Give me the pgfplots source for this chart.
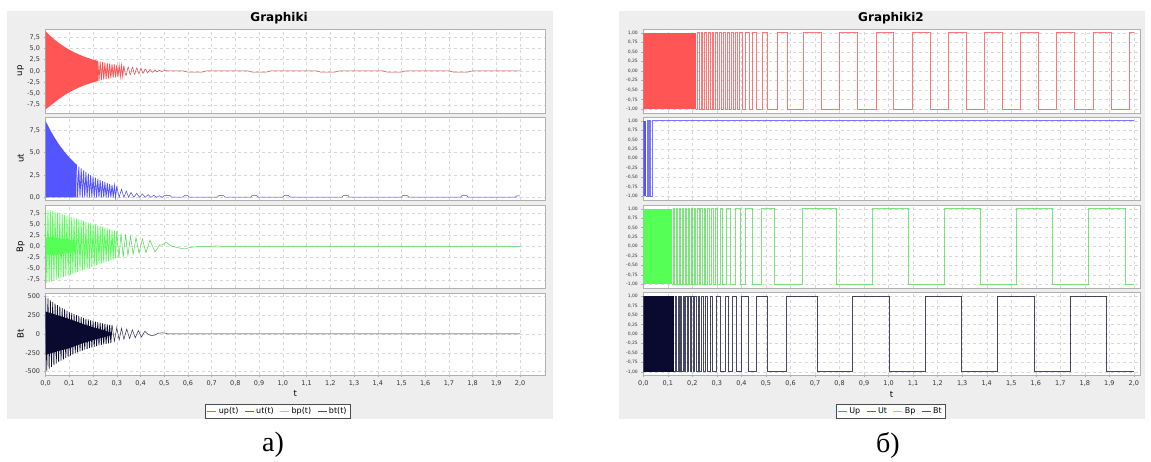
\documentclass[border=0pt]{standalone}
\usepackage{pgfplots}
\pgfplotsset{compat=1.18}
\usepackage{fontspec}
\setmainfont{DejaVu Sans}
\newfontfamily\capfont{Liberation Serif}
\definecolor{upc}{HTML}{FF5555}
\definecolor{utc}{HTML}{5555FF}
\definecolor{bpc}{HTML}{55FF55}
\definecolor{btc}{HTML}{0A0A30}
\definecolor{btl}{HTML}{505068}
\definecolor{panel}{HTML}{EEEEEE}
\definecolor{gridc}{HTML}{D8D8D8}
\definecolor{framec}{HTML}{B0B0B0}
\pgfplotsset{
 base/.style={scale only axis, axis line style={framec}, tick style={framec, line width=0.4pt},
   tick align=outside, major tick length=2pt, xtick pos=bottom, ytick pos=left,
   grid=major, major grid style={gridc, dashed, line width=0.4pt},
   axis background/.style={fill=white},
   /pgf/number format/assume math mode=true,
   xtick={0,0.1,0.2,0.3,0.4,0.5,0.6,0.7,0.8,0.9,1.0,1.1,1.2,1.3,1.4,1.5,1.6,1.7,1.8,1.9,2.0},
   xmin=0,
   xticklabel style={font=\fontsize{6.5}{7}\selectfont, text=black!80, /pgf/number format/.cd, fixed, fixed zerofill, precision=1, use comma},
   ylabel style={font=\fontsize{8.5}{9}\selectfont, at={(axis description cs:-0.0501,0.5)}, anchor=center},
   every axis plot/.append style={line width=0.5pt}},
 top/.style={xticklabels={}, xtick style={draw=none}},
 lft/.style={base, xmax=2.105, width=499.4pt,
   yticklabel style={font=\fontsize{6.5}{7}\selectfont, text=black!80}},
 rgt/.style={base, xmax=2.025, width=496.7pt, ymin=-1.1, ymax=1.1,
   ytick={-1,-0.75,-0.5,-0.25,0,0.25,0.5,0.75,1},
   yticklabel style={font=\fontsize{4.5}{5}\selectfont, text=black!80, /pgf/number format/.cd, fixed, fixed zerofill, precision=2, use comma}},
 dec1/.style={yticklabel style={/pgf/number format/.cd, fixed, fixed zerofill, precision=1, use comma}},
 myleg/.style={legend columns=4,
   legend style={draw=none, fill=white, text=black, font=\fontsize{8}{9}\selectfont, inner sep=1.2pt, /tikz/every even column/.append style={column sep=4pt}}},
 limgU/.style={legend image code/.code={\draw[draw=upc, line width=0.8pt] (0pt,0pt) -- (9pt,0pt);}},
 limgT/.style={legend image code/.code={\draw[draw=utc, line width=0.8pt] (0pt,0pt) -- (9pt,0pt);}},
 limgP/.style={legend image code/.code={\draw[draw=bpc, line width=0.8pt] (0pt,0pt) -- (9pt,0pt);}},
 limgB/.style={legend image code/.code={\draw[draw=btl, line width=0.8pt] (0pt,0pt) -- (9pt,0pt);}}
}
\begin{document}
\begin{tikzpicture}
\useasboundingbox (0pt,0pt) rectangle (1151pt,462pt);
\fill[white] (0pt,0pt) rectangle (1151pt,462pt);
\fill[panel] (7pt,43pt) rectangle (553pt,451pt);
\fill[panel] (619pt,43pt) rectangle (1145pt,451pt);
\node[font=\bfseries\fontsize{12}{13}\selectfont] at (279pt,444pt) {Graphiki};
\node[font=\bfseries\fontsize{12}{13}\selectfont] at (891pt,444pt) {Graphiki2};
\node[font=\capfont\fontsize{28}{30}\selectfont] at (273pt,17pt) {а)};
\node[font=\capfont\fontsize{28}{30}\selectfont] at (888pt,17pt) {б)};

% ---------------- LEFT: up ----------------
\begin{axis}[lft, top, dec1, at={(45.6pt,349pt)}, anchor=south west, height=84pt,
  ymin=-9.3, ymax=9.3, ytick={-7.5,-5,-2.5,0,2.5,5,7.5}, ylabel={up}]
\addplot[fill=upc, draw=none] coordinates {(0,8.8)(0.02,7.77)(0.04,6.85)(0.06,6.05)(0.08,5.34)(0.10,4.71)(0.12,4.16)(0.14,3.67)(0.16,3.24)(0.18,2.86)(0.20,2.52)(0.22,2.22)
 (0.22,-2.22)(0.20,-2.52)(0.18,-2.86)(0.16,-3.24)(0.14,-3.67)(0.12,-4.16)(0.10,-4.71)(0.08,-5.34)(0.06,-6.05)(0.04,-6.85)(0.02,-7.7)(0,-8.5)};
\addplot[upc, line width=0.8pt] coordinates {(0.22,2.22)(0.225,-2.16)(0.23,2.09)(0.235,-2.03)(0.24,1.96)(0.245,-1.90)(0.25,1.84)(0.255,-1.79)(0.26,1.73)(0.265,-1.68)(0.27,1.63)(0.275,-1.58)(0.28,1.53)(0.285,-1.48)(0.29,1.44)(0.295,-1.39)(0.30,1.35)(0.305,-1.31)(0.31,1.27)(0.315,-1.23)(0.32,1.19)(0.325,-1.15)(0.33,1.12)};
\addplot[upc!85!black, smooth] coordinates {(0.33,1.12)(0.339,-1.0)(0.348,0.9)(0.357,-0.85)(0.366,0.8)(0.375,-0.72)(0.384,0.66)(0.393,-0.6)(0.402,0.55)(0.411,-0.5)(0.42,0.45)(0.43,-0.4)(0.44,0.35)(0.45,-0.3)(0.46,0.25)(0.47,-0.2)(0.48,0.15)(0.49,-0.1)(0.50,0.1)(0.52,0.0)};
\addplot[upc!85!black] coordinates {(0.52,0.0)(0.58,0.0)(0.60,-0.25)(0.66,-0.25)(0.68,0.05)(0.85,0.05)(0.87,-0.25)(0.93,-0.25)(0.95,0.05)(1.14,0.05)(1.16,-0.25)(1.22,-0.25)(1.24,0.05)(1.42,0.05)(1.44,-0.25)(1.50,-0.25)(1.52,0.05)(1.70,0.05)(1.72,-0.25)(1.78,-0.25)(1.80,0.05)(2.0,0.05)};
\end{axis}

% ---------------- LEFT: ut ----------------
\begin{axis}[lft, top, dec1, at={(45.6pt,262pt)}, anchor=south west, height=83pt,
  ymin=-0.3, ymax=9.0, ytick={0,2.5,5,7.5}, ylabel={ut}]
\addplot[fill=utc, draw=none] coordinates {(0,8.55)(0.02,7.51)(0.04,6.59)(0.06,5.79)(0.08,5.09)(0.10,4.47)(0.12,3.92)(0.13,3.68)(0.13,0)(0,0)};
\addplot[utc, line width=0.8pt] coordinates {(0.13,3.68)(0.135,0)(0.14,3.45)(0.145,0)(0.15,3.23)(0.155,0)(0.16,3.03)(0.165,0)(0.17,2.84)(0.175,0)(0.18,2.66)(0.185,0)(0.19,2.49)(0.195,0)(0.20,2.33)(0.205,0)(0.21,2.19)(0.215,0)(0.22,2.05)(0.225,0)(0.23,1.92)(0.235,0)(0.24,1.80)(0.245,0)(0.25,1.69)(0.255,0)(0.26,1.58)(0.265,0)(0.27,1.48)(0.275,0)(0.28,1.39)(0.285,0)(0.29,1.30)(0.295,0)(0.30,1.22)};
\addplot[utc!85!black] coordinates {(0.30,1.22)(0.31,0.0)(0.32,0.9)(0.33,0.0)(0.34,0.7)(0.35,0.0)(0.36,0.55)(0.372,0.0)(0.384,0.45)(0.396,0.0)(0.408,0.38)(0.42,0.0)(0.432,0.3)(0.444,0.0)(0.456,0.22)(0.468,0.0)(0.48,0.18)(0.492,0.0)(0.50,0.2)(0.525,0.2)(0.53,0.03)(0.58,0.03)(0.585,0.18)(0.60,0.18)(0.605,0.03)(0.725,0.03)(0.73,0.2)(0.75,0.2)(0.755,0.03)(0.865,0.03)(0.87,0.2)(0.89,0.2)(0.895,0.03)(1.0,0.03)(1.005,0.18)(1.025,0.18)(1.03,0.03)(1.25,0.03)(1.255,0.2)(1.275,0.2)(1.28,0.03)(1.50,0.03)(1.505,0.2)(1.525,0.2)(1.53,0.03)(1.75,0.03)(1.755,0.2)(1.775,0.2)(1.78,0.03)(1.98,0.03)(1.985,0.15)(2.0,0.15)};
\end{axis}

% ---------------- LEFT: Bp ----------------
\begin{axis}[lft, top, dec1, at={(45.6pt,174pt)}, anchor=south west, height=83pt,
  ymin=-9.35, ymax=9.35, ytick={-7.5,-5,-2.5,0,2.5,5,7.5}, ylabel={Bp}]
\addplot[fill=bpc, draw=none] coordinates {(0,2.0)(0.03,2.2)(0.06,1.8)(0.09,1.6)(0.12,1.3)(0.13,0.5)(0.13,-0.5)(0.12,-1.3)(0.09,-1.5)(0.06,-1.8)(0.03,-2.0)(0,-1.8)};
\addplot[bpc, line width=0.75pt] coordinates {(0,8.5)(0.005,-8.21)(0.01,8.33)(0.015,-8.02)(0.02,8.16)(0.025,-7.83)(0.03,7.99)(0.035,-7.64)(0.04,7.82)(0.045,-7.45)(0.05,7.65)(0.055,-7.26)(0.06,7.48)(0.065,-7.07)(0.07,7.31)(0.075,-6.88)(0.08,7.14)(0.085,-6.69)(0.09,6.97)(0.095,-6.50)(0.10,6.80)(0.105,-6.31)(0.11,6.63)(0.115,-6.12)(0.12,6.46)(0.125,-5.93)(0.13,6.29)(0.135,-5.74)(0.14,6.12)(0.145,-5.55)(0.15,5.95)(0.155,-5.36)(0.16,5.78)(0.165,-5.17)(0.17,5.61)(0.175,-4.98)(0.18,5.44)(0.185,-4.79)(0.19,5.27)(0.195,-4.60)(0.20,5.10)(0.205,-4.41)(0.21,4.93)(0.215,-4.22)(0.22,4.76)(0.225,-4.03)(0.23,4.59)(0.235,-3.84)(0.24,4.42)(0.245,-3.65)(0.25,4.25)(0.255,-3.46)(0.26,4.08)(0.265,-3.27)(0.27,3.91)(0.275,-3.08)(0.28,3.74)(0.285,-2.89)(0.29,3.57)(0.295,-2.70)(0.30,3.40)};
\addplot[bpc!85!black] coordinates {(0.30,3.40)(0.309,-2.6)(0.318,2.9)(0.327,-2.3)(0.337,2.6)(0.347,-2.0)(0.358,2.3)(0.369,-1.7)(0.381,2.0)(0.394,-1.5)(0.408,1.7)(0.423,-1.4)(0.440,1.4)(0.461,-1.2)(0.482,0.4)(0.490,0.3)(0.507,1.0)(0.53,0.1)(0.56,-0.3)(0.585,-0.55)(0.61,-0.2)(0.64,-0.05)(0.70,0.0)(0.72,0.15)(0.75,0.0)(2.0,0.0)};
\end{axis}

% ---------------- LEFT: Bt ----------------
\begin{axis}[lft, myleg, at={(45.6pt,87pt)}, anchor=south west, height=82pt,
  ymin=-547, ymax=547, ytick={-500,-250,0,250,500}, ylabel={Bt},
  xlabel={t}, xlabel style={font=\fontsize{8.5}{9}\selectfont, at={(axis description cs:0.5,0)}, anchor=center, yshift=-19pt},
  legend style={at={(0.465,-0.439)}, anchor=center, name=legL}]
\addlegendimage{limgU}\addlegendentry{up(t)}
\addlegendimage{limgT}\addlegendentry{ut(t)}
\addlegendimage{limgP}\addlegendentry{bp(t)}
\addlegendimage{limgB}\addlegendentry{bt(t)}
\addplot[forget plot, fill=btc, draw=none] coordinates {(0,300)(0.05,250)(0.1,200)(0.15,140)(0.2,90)(0.25,45)(0.28,10)(0.28,-10)(0.25,-40)(0.2,-80)(0.15,-130)(0.1,-190)(0.05,-230)(0,-280)};
\addplot[forget plot, btc, line width=0.75pt] coordinates {(0,500)(0.005,-487)(0.01,474)(0.015,-462)(0.02,450)(0.025,-438)(0.03,427)(0.035,-416)(0.04,405)(0.045,-395)(0.05,384)(0.055,-374)(0.06,365)(0.065,-355)(0.07,346)(0.075,-337)(0.08,328)(0.085,-320)(0.09,311)(0.095,-303)(0.10,295)(0.105,-288)(0.11,280)(0.115,-273)(0.12,266)(0.125,-259)(0.13,252)(0.135,-246)(0.14,239)(0.145,-233)(0.15,227)(0.155,-221)(0.16,215)(0.165,-210)(0.17,204)(0.175,-199)(0.18,194)(0.185,-189)(0.19,184)(0.195,-179)(0.20,175)(0.205,-170)(0.21,166)(0.215,-161)(0.22,157)(0.225,-153)(0.23,149)(0.235,-145)(0.24,141)(0.245,-138)(0.25,134)(0.255,-131)(0.26,127)(0.265,-124)(0.27,121)(0.275,-118)(0.28,115)};
\addplot[forget plot, btc!85] coordinates {(0.28,115)(0.29,-95)(0.30,85)(0.31,-80)(0.32,75)(0.33,-70)(0.342,65)(0.354,-60)(0.366,55)(0.378,-50)(0.391,45)(0.404,-40)(0.418,35)(0.432,-5)(0.445,-20)(0.46,-15)(0.475,10)(0.49,15)(0.505,12)(0.515,0)(2.0,0)};
\end{axis}
\draw[black!70, line width=0.6pt] (legL.south west) rectangle (legL.north east);

% ---------------- RIGHT: Up ----------------
\begin{axis}[rgt, top, at={(643.3pt,349pt)}, anchor=south west, height=84pt]
\addplot[fill=upc, draw=none] coordinates {(0,-1)(0.215,-1)(0.215,1)(0,1)};
\addplot[upc, opacity=0.8, const plot, line width=0.7pt] coordinates {(0.215,-1)(0.2203,1)(0.2284,-1)(0.2352,1)(0.2420,-1)(0.2502,1)(0.2570,-1)(0.2651,1)(0.2719,-1)(0.2801,1)(0.2869,-1)(0.2950,1)(0.3018,-1)(0.3100,1)(0.3181,-1)(0.3263,1)(0.3344,-1)(0.3426,1)(0.3507,-1)(0.3589,1)(0.3670,-1)(0.3752,1)(0.3833,-1)(0.391,1)(0.404,-1)(0.417,1)(0.431,-1)(0.444,1)(0.459,-1)(0.485,1)(0.507,-1)(0.546,1)(0.589,-1)(0.652,1)(0.727,-1)(0.799,1)(0.874,-1)(0.949,1)(1.019,-1)(1.097,1)(1.169,-1)(1.243,1)(1.316,-1)(1.390,1)(1.464,-1)(1.536,1)(1.610,-1)(1.685,1)(1.757,-1)(1.834,1)(1.907,-1)(1.981,1)(2.0,1)};
\end{axis}

% ---------------- RIGHT: Ut ----------------
\begin{axis}[rgt, top, at={(643.3pt,262pt)}, anchor=south west, height=83pt]
\addplot[fill=utc, draw=none] coordinates {(0,-1)(0.012,-1)(0.012,1)(0,1)};
\addplot[utc, opacity=0.8, const plot, line width=0.7pt] coordinates {(0.012,-1)(0.016,1)(0.020,-1)(0.026,1)(0.030,-1)(0.037,1)(2.0,1)};
\end{axis}

% ---------------- RIGHT: Bp ----------------
\begin{axis}[rgt, top, at={(643.3pt,174pt)}, anchor=south west, height=83pt]
\addplot[fill=bpc, draw=none] coordinates {(0,-1)(0.118,-1)(0.118,1)(0,1)};
\addplot[bpc!85!black, opacity=0.7, const plot, line width=0.7pt] coordinates {(0.118,-1)(0.1224,1)(0.1279,-1)(0.1347,1)(0.1401,-1)(0.1469,1)(0.1523,-1)(0.1591,1)(0.1646,-1)(0.1713,1)(0.1768,-1)(0.1836,1)(0.1890,-1)(0.1958,1)(0.2013,-1)(0.2080,1)(0.2135,-1)(0.2203,1)(0.2271,-1)(0.2339,1)(0.2406,-1)(0.2475,1)(0.2543,-1)(0.2610,1)(0.2692,-1)(0.2773,1)(0.2855,-1)(0.2936,1)(0.3032,-1)(0.3127,1)(0.3236,-1)(0.337,1)(0.356,-1)(0.374,1)(0.394,-1)(0.416,1)(0.446,-1)(0.483,1)(0.534,-1)(0.648,1)(0.786,-1)(0.934,1)(1.080,-1)(1.227,1)(1.373,-1)(1.522,1)(1.667,-1)(1.814,1)(1.964,-1)(2.0,-1)};
\end{axis}

% ---------------- RIGHT: Bt ----------------
\begin{axis}[rgt, myleg, at={(643.3pt,86.5pt)}, anchor=south west, height=82.8pt,
  xlabel={t}, xlabel style={font=\fontsize{8.5}{9}\selectfont, at={(axis description cs:0.5,0)}, anchor=center, yshift=-19pt},
  legend style={at={(0.498,-0.435)}, anchor=center, name=legR}]
\addlegendimage{limgU}\addlegendentry{Up}
\addlegendimage{limgT}\addlegendentry{Ut}
\addlegendimage{limgP}\addlegendentry{Bp}
\addlegendimage{limgB}\addlegendentry{Bt}
\addplot[forget plot, fill=btc, draw=none] coordinates {(0,-1)(0.127,-1)(0.127,1)(0,1)};
\addplot[forget plot, btc, opacity=0.75, const plot, line width=0.7pt] coordinates {(0.127,-1)(0.131,1)(0.135,-1)(0.141,1)(0.145,-1)(0.151,1)(0.156,-1)(0.162,1)(0.167,-1)(0.173,1)(0.178,-1)(0.185,1)(0.190,-1)(0.197,1)(0.203,-1)(0.210,1)(0.216,-1)(0.224,1)(0.230,-1)(0.238,1)(0.245,-1)(0.254,1)(0.261,-1)(0.272,1)(0.282,-1)(0.299,1)(0.313,-1)(0.333,1)(0.347,-1)(0.365,1)(0.381,-1)(0.401,1)(0.428,-1)(0.459,1)(0.507,-1)(0.582,1)(0.709,-1)(0.854,1)(1.003,-1)(1.148,1)(1.298,-1)(1.443,1)(1.593,-1)(1.740,1)(1.889,-1)(2.0,-1)};
\end{axis}
\draw[black!70, line width=0.6pt] (legR.south west) rectangle (legR.north east);
\end{tikzpicture}
\end{document}
